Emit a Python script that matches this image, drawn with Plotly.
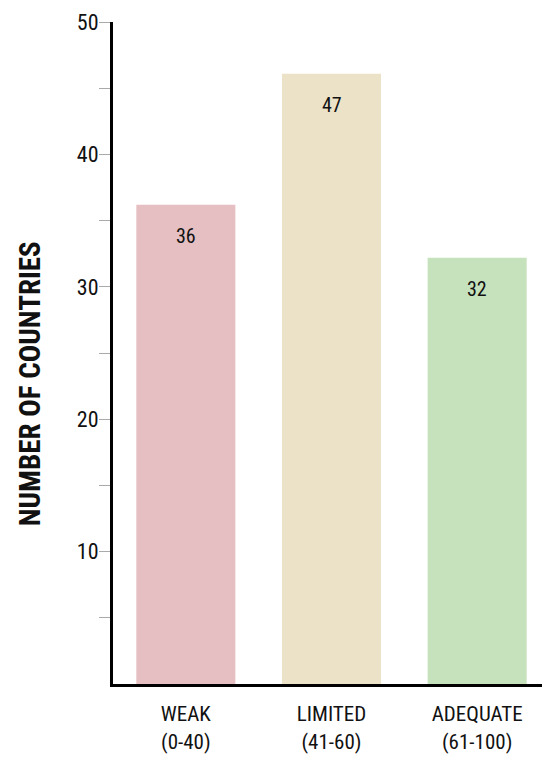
import plotly.graph_objects as go

categories = ["WEAK<br>(0-40)", "LIMITED<br>(41-60)", "ADEQUATE<br>(61-100)"]
values = [36.2, 46.1, 32.2]
labels = ["36", "47", "32"]
colors = ["#e5bfc1", "#ece2c8", "#c6e2bd"]
y_ticks = [10, 20, 30, 40, 50]
y_minor = [5, 15, 25, 35, 45]

FONT = "Roboto Condensed, sans-serif"

fig = go.Figure()
fig.add_trace(go.Bar(
    x=categories, y=values, marker=dict(color=colors, line=dict(width=0)),
    width=0.68, hoverinfo="skip",
))

for c, v, t in zip(categories, values, labels):
    fig.add_annotation(x=c, y=v, text=t, showarrow=False, yanchor="middle",
                       yshift=-31, font=dict(family=FONT, size=20, color="#111"))

fig.add_annotation(xref="paper", yref="paper", x=-83/437, y=0.4528,
                   text="<b>NUMBER OF COUNTRIES</b>", textangle=-90, showarrow=False,
                   xanchor="center", yanchor="middle",
                   font=dict(family=FONT, size=29, color="#111"))

fig.update_layout(
    width=542, height=749,
    margin=dict(l=105, r=0, t=14, b=73, autoexpand=False),
    paper_bgcolor="white", plot_bgcolor="white",
    showlegend=False,
    font=dict(family=FONT, color="#111"),
)
fig.update_xaxes(
    range=[-0.5, 2.5], showline=True, linecolor="black", linewidth=3,
    ticks="outside", ticklen=9, tickcolor="rgba(0,0,0,0)",
    tickfont=dict(family=FONT, size=21, color="#111"), showgrid=False,
    automargin=False,
)
fig.update_yaxes(
    range=[0, 50], showline=True, linecolor="black", linewidth=3,
    tickvals=y_ticks, ticks="outside", ticklen=11,
    tickcolor="#aaaaaa", tickwidth=1,
    minor=dict(tickvals=y_minor, ticks="outside", ticklen=11,
               tickcolor="#aaaaaa", tickwidth=1),
    tickfont=dict(family=FONT, size=22, color="#111"), showgrid=False,
    zeroline=False, ticklabelstandoff=-4, ticklabeloverflow="allow",
    automargin=False,
)

fig.write_html("out.html")
